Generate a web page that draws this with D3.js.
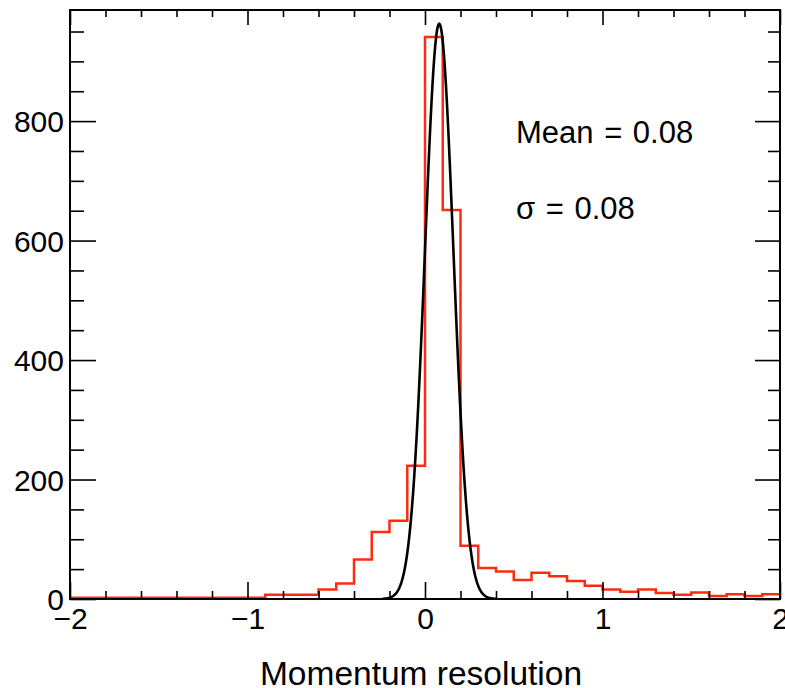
<!DOCTYPE html>
<html>
<head>
  <meta charset="UTF-8">
  <style>
    body { margin: 0; background: white; }
    svg { display: block; font-family: "Liberation Sans", Arial, sans-serif; }
    .axis text { font-size: 30px; fill: black; }
    .axis line { stroke: black; stroke-width: 1.6px; }
    .axis path { display: none; }
  </style>
</head>
<body>
<svg></svg>
<script src="https://d3js.org/d3.v7.min.js"></script>
<script>

// histogram: 40 bins of 0.1 between -2 and 2
let binRange = [-2, 2];
let counts = [2, 2, 2, 2, 2, 2, 2, 2, 2, 2,
              2, 7, 7, 7, 16, 26, 66, 112, 131, 223,
              941, 651, 89, 52, 46, 32, 44, 38, 30, 22,
              16, 12, 16, 10, 7, 11, 5, 8, 5, 8];

// gaussian fit shown in black
let fitConstant = 963;
let fitMean = 0.08;
let fitSigma = 0.08;
let fitRange = [-0.24, 0.40];

let xMajor = [-2, -1, 0, 1, 2];
let yMajor = [0, 200, 400, 600, 800];
let yMax = 986;

let width = 785, height = 688;
let padL = 70, padR = 780, padT = 10, padB = 599;

let svg = d3.select("svg")
    .attr("width", width)
    .attr("height", height);

let x = d3.scaleLinear().domain(binRange).range([padL, padR]);
let y = d3.scaleLinear().domain([0, yMax]).range([padB, padT]);

let xMinor = d3.range(-20, 21, 2).map(d => d / 10).filter(d => !Number.isInteger(d));
let yMinor = d3.range(0, yMax, 50).filter(d => d % 200 != 0);

// histogram outline
let nBins = counts.length;
let binW = (binRange[1] - binRange[0]) / nBins;
let steps = counts.map((c, i) => [binRange[0] + i * binW, c]);
steps.push([binRange[1], counts[nBins - 1]]);

svg.append("path")
    .datum(steps)
    .attr("fill", "none")
    .attr("stroke", "#ff2a10")
    .attr("stroke-width", 2.5)
    .attr("d", d3.line().x(d => x(d[0])).y(d => y(d[1])).curve(d3.curveStepAfter));

// fit curve
let fitPts = d3.range(0, 201).map(i => {
    let xv = fitRange[0] + (fitRange[1] - fitRange[0]) * i / 200;
    let z = (xv - fitMean) / fitSigma;
    return [xv, fitConstant * Math.exp(-0.5 * z * z)];
});

svg.append("path")
    .datum(fitPts)
    .attr("fill", "none")
    .attr("stroke", "black")
    .attr("stroke-width", 2.6)
    .attr("d", d3.line().x(d => x(d[0])).y(d => y(d[1])));

// axes, ticks pointing inward
let fmt = d3.format("d");

let xAxis = svg.append("g").attr("class", "axis")
    .attr("transform", "translate(0," + padB + ")")
    .call(d3.axisBottom(x).tickValues(xMajor).tickSize(-17).tickFormat(fmt));
xAxis.selectAll("text").attr("y", 30).attr("dy", 0);
svg.append("g").attr("class", "axis")
    .attr("transform", "translate(0," + padB + ")")
    .call(d3.axisBottom(x).tickValues(xMinor).tickSize(-8).tickFormat(""));

svg.append("g").attr("class", "axis")
    .attr("transform", "translate(0," + padT + ")")
    .call(d3.axisTop(x).tickValues(xMajor).tickSize(-15).tickFormat(""));
svg.append("g").attr("class", "axis")
    .attr("transform", "translate(0," + padT + ")")
    .call(d3.axisTop(x).tickValues(xMinor).tickSize(-7).tickFormat(""));

let yAxis = svg.append("g").attr("class", "axis")
    .attr("transform", "translate(" + padL + ",0)")
    .call(d3.axisLeft(y).tickValues(yMajor).tickSize(-26).tickFormat(fmt));
yAxis.selectAll("text").attr("x", -6).attr("dy", "0.35em");
svg.append("g").attr("class", "axis")
    .attr("transform", "translate(" + padL + ",0)")
    .call(d3.axisLeft(y).tickValues(yMinor).tickSize(-14).tickFormat(""));

svg.append("g").attr("class", "axis")
    .attr("transform", "translate(" + padR + ",0)")
    .call(d3.axisRight(y).tickValues(yMajor).tickSize(-25).tickFormat(""));
svg.append("g").attr("class", "axis")
    .attr("transform", "translate(" + padR + ",0)")
    .call(d3.axisRight(y).tickValues(yMinor).tickSize(-12).tickFormat(""));

// frame
svg.append("rect")
    .attr("x", padL).attr("y", padT)
    .attr("width", padR - padL).attr("height", padB - padT)
    .attr("fill", "none")
    .attr("stroke", "black")
    .attr("stroke-width", 2);

// axis title
svg.append("text")
    .attr("x", 421).attr("y", 685)
    .attr("text-anchor", "middle")
    .style("font-size", "33.5px")
    .text("Momentum resolution");

// fit results
svg.append("text")
    .attr("x", 516).attr("y", 142.5)
    .style("font-size", "31px")
    .style("word-spacing", "2px")
    .text("Mean = " + fitMean.toFixed(2));
svg.append("text")
    .attr("x", 516).attr("y", 218.5)
    .style("font-size", "31px")
    .style("word-spacing", "2px")
    .text("σ = " + fitSigma.toFixed(2));

</script>
</body>
</html>
